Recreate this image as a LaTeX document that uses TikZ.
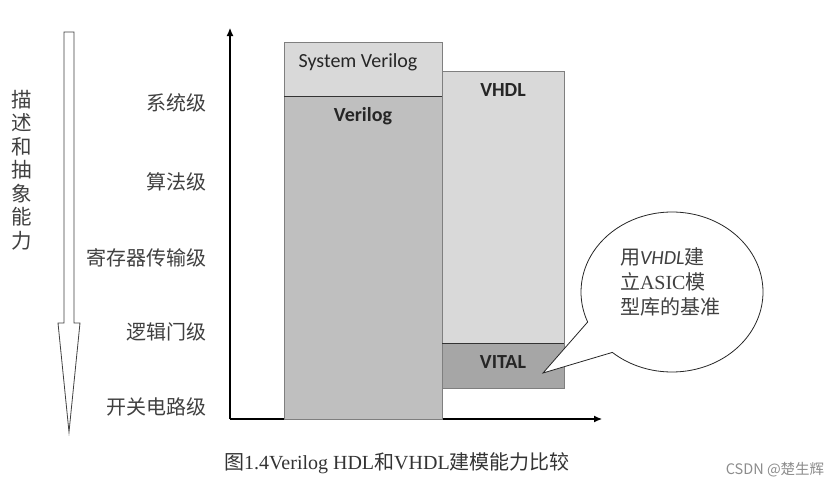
\documentclass[tikz,border=0pt]{standalone}
\usepackage{fontspec}
\setmainfont{Liberation Serif}
\newfontfamily\cjk{Noto Sans CJK SC}
\newfontfamily\barfont{Carlito}
\usetikzlibrary{arrows.meta, shapes.callouts}
\definecolor{lightbar}{RGB}{217,217,217}
\definecolor{midbar}{RGB}{191,191,191}
\definecolor{darkbar}{RGB}{166,166,166}
\definecolor{barline}{RGB}{127,127,127}
\definecolor{labelgray}{RGB}{64,64,64}

\begin{document}
\begin{tikzpicture}[x=1pt,y=-1pt,
          bar/.style={draw=barline,line width=0.8pt},
          divider/.style={draw=black!80,line width=0.8pt},
          axis/.style={line width=1.1pt,-{Latex[length=8pt,width=7pt]}},
          level/.style={anchor=east,inner sep=0pt,text=labelgray,
                        font=\cjk\fontsize{20}{24}\selectfont},
          barlabel/.style={inner sep=0pt,text=black!85,
                           font=\barfont\fontsize{20}{24}\selectfont}]
        \useasboundingbox (0,0) rectangle (836,488);
        % hollow arrow on the left
        \draw[draw=black!75,fill=white,line width=0.8pt]
          (64,32) -- (74,32) -- (74,323) -- (80,323) -- (69,432)
          -- (58,323) -- (64,323) -- cycle;
        \node[text=labelgray,align=center,inner sep=0pt,
              font=\cjk\fontsize{20.5}{23.5}\selectfont](ability) at (22,170)
          {描\\述\\和\\抽\\象\\能\\力};
        % levels
        \node[level](sys) at (207,103){系统级};
        \node[level](alg) at (207,182){算法级};
        \node[level](rtl) at (207,258){寄存器传输级};
        \node[level](gate) at (207,332){逻辑门级};
        \node[level](switch) at (207,407){开关电路级};
        % axes
        \coordinate(origin) at (230,419);
        \coordinate(ytop) at (230,28);
        \coordinate(xend) at (602,419);
        \draw[axis](origin)--(ytop);
        \draw[axis](origin)--(xend);
        % bars
        \draw[bar,fill=lightbar] (284,42) rectangle (442,96);
        \draw[bar,fill=midbar] (284,96) rectangle (442,419);
        \draw[bar,fill=lightbar] (442,71) rectangle (564,343);
        \draw[bar,fill=darkbar] (442,343) rectangle (564,388);
        \draw[divider] (284,96) -- (442,96);
        \draw[divider] (442,343) -- (564,343);
        \node[barlabel](sv) at (358,62){System Verilog};
        \node[barlabel,font=\barfont\bfseries\fontsize{20}{24}\selectfont](verilog) at (363,116){Verilog};
        \node[barlabel,font=\barfont\bfseries\fontsize{20}{24}\selectfont](vhdl) at (503,90){VHDL};
        \node[barlabel,font=\barfont\bfseries\fontsize{20}{24}\selectfont](vital) at (503,362){VITAL};
        % callout
        \node[ellipse callout,draw=black!85,fill=white,line width=0.8pt,
              minimum width=182pt,minimum height=160pt,callout pointer arc=27,
              callout absolute pointer={(543,373)}](bubble) at (672,292){};
        \node[align=left,inner sep=0pt,text=labelgray,
              font=\cjk\fontsize{20}{25}\selectfont](note) at (670,282)
          {用{\barfont\itshape VHDL}建\\
           立{\rmfamily ASIC}模\\
           型库的基准};
        % caption
        \node[text=black!80,inner sep=0pt,font=\fontsize{20}{24}\selectfont](caption) at (397,463)
          {{\cjk 图}1.4Verilog HDL{\cjk 和}VHDL{\cjk 建模能力比较}};
        \node[text=black!45,inner sep=0pt,font=\cjk\fontsize{14.5}{17}\selectfont](mark) at (775,470)
          {CSDN @楚生辉};
      \end{tikzpicture}
\end{document}
